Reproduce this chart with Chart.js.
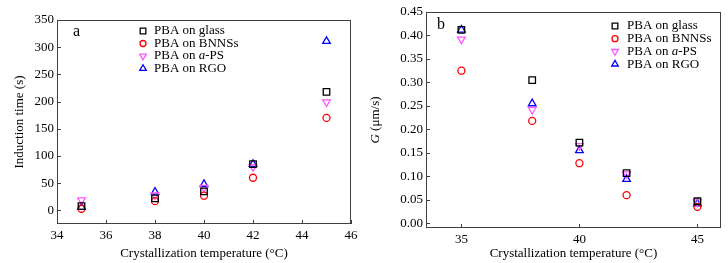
<!DOCTYPE html>
<html><head><meta charset="utf-8">
<script src="https://cdn.jsdelivr.net/npm/chart.js@4"></script>
<style>
html,body{margin:0;padding:0;background:#fff;}
#wrap{position:relative;width:728px;height:263px;overflow:hidden;background:#fff;}
#ca{position:absolute;left:0;top:0;}
#cb{position:absolute;left:364px;top:0;}
</style></head><body>
<div id="wrap"><canvas id="ca" width="364" height="263"></canvas><canvas id="cb" width="364" height="263"></canvas></div>
<script>
// ---- data ----
const temps = [35, 38, 40, 42, 45];
const seriesNames = ['PBA on glass', 'PBA on BNNSs', 'PBA on a-PS', 'PBA on RGO'];

const induction_glass = [8, 22, 35, 85, 218];
const induction_BNNSs = [3, 17, 27, 60, 170];
const induction_aPS   = [19, 28, 42, 80, 199];
const induction_RGO   = [6, 34, 48, 85, 311];

const G_glass = [0.412, 0.305, 0.172, 0.107, 0.047];
const G_BNNSs = [0.325, 0.218, 0.128, 0.060, 0.035];
const G_aPS   = [0.392, 0.242, 0.165, 0.105, 0.045];
const G_RGO   = [0.412, 0.255, 0.155, 0.094, 0.042];

const xTicksA = [34, 36, 38, 40, 42, 44, 46];
const yTicksA = [0, 50, 100, 150, 200, 250, 300, 350];
const xTicksB = [35, 40, 45];
const yTicksB = ['0.00','0.05','0.10','0.15','0.20','0.25','0.30','0.35','0.40','0.45'];

const xTitle = 'Crystallization temperature (°C)';
const yTitleA = 'Induction time (s)';
const yTitleB = ['G', ' (μm/s)'];
const panelA = 'a', panelB = 'b';

// ---- styles ----
const FONT = '"Liberation Serif", "Times New Roman", serif';
Chart.defaults.font.family = FONT;
Chart.defaults.font.size = 13;
Chart.defaults.color = '#000';
const AXIS_COLOR = '#404040';
const styles = [
  {pointStyle: 'rect', color: '#000000', radius: 4.6, legendRadius: 4, rotation: 0},
  {pointStyle: 'circle', color: '#ff0000', radius: 3.5, legendRadius: 3, rotation: 0},
  {pointStyle: 'triangle', color: '#ff55ff', radius: 4.4, legendRadius: 3.8, rotation: 180},
  {pointStyle: 'triangle', color: '#0000ff', radius: 4.4, legendRadius: 3.8, rotation: 0}
];

function mkDatasets(arrs) {
  return arrs.map((vals, i) => ({
    label: seriesNames[i],
    data: temps.map((t, k) => ({x: t, y: vals[k]})),
    showLine: false,
    pointStyle: styles[i].pointStyle,
    pointRadius: styles[i].radius,
    pointHoverRadius: styles[i].radius,
    pointRotation: styles[i].rotation,
    pointBorderColor: styles[i].color,
    pointBackgroundColor: 'rgba(0,0,0,0)',
    pointBorderWidth: 1.3,
    borderColor: styles[i].color,
    backgroundColor: 'rgba(0,0,0,0)'
  }));
}

const framePlugin = {
  id: 'frame',
  afterDraw(chart, args, o) {
    const ctx = chart.ctx, a = chart.chartArea;
    ctx.save();
    ctx.strokeStyle = AXIS_COLOR;
    ctx.lineWidth = 1;
    ctx.strokeRect(Math.round(a.left) + 0.5, Math.round(a.top) + 0.5, Math.round(a.right - a.left) - 1, Math.round(a.bottom - a.top) - 1);
    const xs = chart.scales.x, ys = chart.scales.y;
    ctx.beginPath();
    xs.ticks.forEach(t => {
      const px = Math.round(xs.getPixelForValue(t.value)) + 0.5;
      ctx.moveTo(px, a.bottom); ctx.lineTo(px, a.bottom - 4);
    });
    ys.ticks.forEach(t => {
      const py = Math.round(ys.getPixelForValue(t.value)) + 0.5;
      ctx.moveTo(a.left, py); ctx.lineTo(a.left + 4, py);
    });
    ctx.stroke();
    // panel label
    ctx.fillStyle = '#000';
    ctx.font = '16px ' + FONT;
    ctx.textBaseline = 'middle';
    ctx.textAlign = 'left';
    ctx.fillText(o.panel, o.px, o.py);
    // legend
    chart.data.datasets.forEach((ds, i) => {
      const y = o.ly + i * o.ldy;
      ctx.save();
      ctx.strokeStyle = ds.pointBorderColor;
      ctx.fillStyle = 'rgba(0,0,0,0)';
      ctx.lineWidth = ds.pointBorderWidth;
      Chart.helpers.drawPoint(ctx, {pointStyle: ds.pointStyle, rotation: ds.pointRotation, radius: styles[i].legendRadius, borderWidth: ds.pointBorderWidth}, o.mx, y);
      ctx.restore();
      ctx.fillStyle = '#000';
      ctx.textBaseline = 'middle';
      ctx.textAlign = 'left';
      const name = ds.label;
      const m = name.match(/^(.*\s)(a)(-PS)$/);
      const segs = m ? [[m[1], false], [m[2], true], [m[3], false]] : [[name, false]];
      let x = o.tx;
      segs.forEach(([t, it]) => {
        ctx.font = (it ? 'italic ' : '') + '13px ' + FONT;
        ctx.fillText(t, x, y);
        x += ctx.measureText(t).width;
      });
    });
    // custom y title (mixed italics)
    if (o.ytitle) {
      ctx.save();
      const cy = (a.top + a.bottom) / 2;
      ctx.translate(o.ytx, cy);
      ctx.rotate(-Math.PI / 2);
      ctx.textBaseline = 'middle';
      ctx.textAlign = 'left';
      ctx.font = 'italic 13px ' + FONT;
      const w0 = ctx.measureText(o.ytitle[0]).width;
      ctx.font = '13px ' + FONT;
      const w1 = ctx.measureText(o.ytitle[1]).width;
      let x = -(w0 + w1) / 2;
      ctx.font = 'italic 13px ' + FONT;
      ctx.fillText(o.ytitle[0], x, 0);
      ctx.font = '13px ' + FONT;
      ctx.fillText(o.ytitle[1], x + w0, 0);
      ctx.restore();
    }
    ctx.restore();
  }
};

// ---- chart a ----
new Chart(document.getElementById('ca'), {
  type: 'scatter',
  data: {datasets: mkDatasets([induction_glass, induction_BNNSs, induction_aPS, induction_RGO])},
  plugins: [framePlugin],
  options: {
    responsive: false, animation: false, devicePixelRatio: 1,
    layout: {padding: {left: 0, top: 20, right: 13, bottom: 0}},
    plugins: {legend: {display: false}, tooltip: {enabled: false},
      frame: {panel: panelA, px: 73, py: 32, mx: 143, tx: 154, ly: 31, ldy: 12.5}},
    scales: {
      x: {
        type: 'linear', min: 34, max: 46,
        afterBuildTicks: s => { s.ticks = xTicksA.map(v => ({value: v})); },
        afterFit: s => { s.height = 39; },
        grid: {display: false, drawTicks: false}, border: {display: false},
        ticks: {padding: 4, callback: v => String(v), maxRotation: 0, autoSkip: false, font: {size: 13}},
        title: {display: true, text: xTitle, padding: {top: 0, bottom: 2}, font: {size: 13}}
      },
      y: {
        type: 'linear', min: -25, max: 350,
        afterBuildTicks: s => { s.ticks = yTicksA.map(v => ({value: v})); },
        afterFit: s => { s.width = 57; },
        grid: {display: false, drawTicks: false}, border: {display: false},
        ticks: {padding: 3, callback: v => String(v), autoSkip: false, font: {size: 13}},
        title: {display: true, text: yTitleA, padding: {top: 12, bottom: 0}, font: {size: 13}}
      }
    }
  }
});

// ---- chart b ----
new Chart(document.getElementById('cb'), {
  type: 'scatter',
  data: {datasets: mkDatasets([G_glass, G_BNNSs, G_aPS, G_RGO])},
  plugins: [framePlugin],
  options: {
    responsive: false, animation: false, devicePixelRatio: 1,
    layout: {padding: {left: 0, top: 12, right: 7, bottom: 0}},
    plugins: {legend: {display: false}, tooltip: {enabled: false},
      frame: {panel: panelB, px: 73, py: 25, mx: 251, tx: 263, ly: 26, ldy: 12.7, ytitle: yTitleB, ytx: 12}},
    scales: {
      x: {
        type: 'linear', min: 33.5, max: 46,
        afterBuildTicks: s => { s.ticks = xTicksB.map(v => ({value: v})); },
        afterFit: s => { s.height = 35; },
        grid: {display: false, drawTicks: false}, border: {display: false},
        ticks: {padding: 4, callback: v => String(v), maxRotation: 0, autoSkip: false, font: {size: 13}},
        title: {display: true, text: xTitle, padding: {top: 0, bottom: 2}, font: {size: 13}}
      },
      y: {
        type: 'linear', min: -0.01, max: 0.45,
        afterBuildTicks: s => { s.ticks = yTicksB.map(v => ({value: parseFloat(v)})); },
        afterFit: s => { s.width = 62; },
        grid: {display: false, drawTicks: false}, border: {display: false},
        ticks: {padding: 3, callback: v => yTicksB.find(t => Math.abs(parseFloat(t) - v) < 1e-9) || '', autoSkip: false, font: {size: 13}},
        title: {display: false}
      }
    }
  }
});
</script>
</body></html>
